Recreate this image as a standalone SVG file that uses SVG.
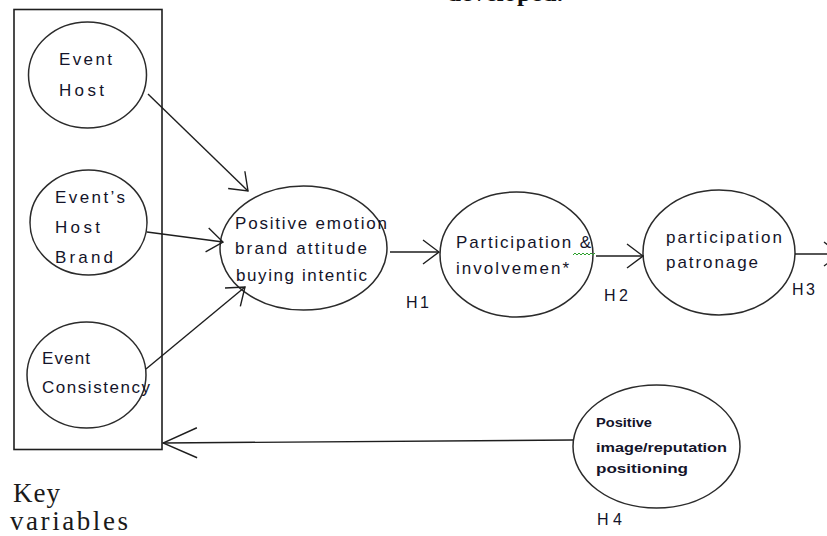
<svg xmlns="http://www.w3.org/2000/svg" width="827" height="536" viewBox="0 0 827 536">
<style>
.bg{fill:#ffffff}
.node{fill:none;stroke:#2b2b2b;stroke-width:1.5}
.box{fill:none;stroke:#1e1e1e;stroke-width:1.6}
.t{font-family:"Liberation Sans",Arial,sans-serif;font-size:17px;fill:#14142a}
.ts{font-family:"Liberation Sans",Arial,sans-serif;font-size:13px;font-weight:bold;fill:#14142a}
.h{font-family:"Liberation Sans",Arial,sans-serif;font-size:16px;fill:#14142a}
.serif{font-family:"Liberation Serif","Times New Roman",serif;font-size:27px;fill:#1a1a1a}
.title{font-family:"Liberation Serif","Times New Roman",serif;font-size:25px;font-weight:bold;fill:#111}
.edge{fill:none;stroke:#1e1e1e;stroke-width:1.4}
</style>
<defs>
<marker id="arr" viewBox="0 0 18 26" refX="17" refY="13" markerWidth="18" markerHeight="26" markerUnits="userSpaceOnUse" orient="auto">
<path d="M1,1 L17,13 L1,25" fill="none" stroke="#1e1e1e" stroke-width="1.4"/>
</marker>
<marker id="arrBig" viewBox="0 0 36 32" refX="35" refY="16" markerWidth="36" markerHeight="32" markerUnits="userSpaceOnUse" orient="auto">
<path d="M1,1 L35,16 L1,31" fill="none" stroke="#1e1e1e" stroke-width="1.4"/>
</marker>
</defs>
<rect class="bg" x="0" y="0" width="827" height="536"/>
<text class="title" x="447" y="1" textLength="116" lengthAdjust="spacing">developed.</text>

<g id="key-box">
<rect class="box" x="14" y="9.5" width="148" height="440"/>
</g>

<g id="event-host">
<ellipse class="node" cx="87.5" cy="75" rx="59" ry="53"/>
<text class="t" x="59" y="65" textLength="53" lengthAdjust="spacing">Event</text>
<text class="t" x="59" y="96" textLength="45" lengthAdjust="spacing">Host</text>
</g>

<g id="event-host-brand">
<ellipse class="node" cx="88.5" cy="222.5" rx="58.5" ry="52.5"/>
<text class="t" x="55" y="203" textLength="70" lengthAdjust="spacing">Event’s</text>
<text class="t" x="55" y="233" textLength="45" lengthAdjust="spacing">Host</text>
<text class="t" x="55" y="263" textLength="58" lengthAdjust="spacing">Brand</text>
</g>

<g id="event-consistency">
<ellipse class="node" cx="86.5" cy="375" rx="59.5" ry="53"/>
<text class="t" x="42" y="364" textLength="48" lengthAdjust="spacing">Event</text>
<text class="t" x="42" y="393" textLength="108" lengthAdjust="spacing">Consistency</text>
</g>

<g id="positive-emotion">
<ellipse class="node" cx="303.5" cy="248" rx="83.5" ry="62"/>
<text class="t" x="235" y="229" textLength="152" lengthAdjust="spacing">Positive emotion</text>
<text class="t" x="235" y="254" textLength="132" lengthAdjust="spacing">brand attitude</text>
<text class="t" x="236" y="281" textLength="131" lengthAdjust="spacing">buying intentic</text>
</g>

<g id="participation-involvement">
<ellipse class="node" cx="516.5" cy="254.5" rx="76.5" ry="62.5"/>
<text class="t" x="456" y="248" textLength="135" lengthAdjust="spacing">Participation &amp;</text>
<text class="t" x="456" y="274" textLength="113" lengthAdjust="spacing">involvemen*</text>
<path d="M573,255 l2,-2 l2,2 l2,-2 l2,2 l2,-2 l2,2 l2,-2 l2,2 l2,-2 l2,2 l2,-2" fill="none" stroke="#2aa02a" stroke-width="1"/>
</g>

<g id="participation-patronage">
<ellipse class="node" cx="719" cy="252.5" rx="76" ry="62.5"/>
<text class="t" x="666" y="243" textLength="116" lengthAdjust="spacing">participation</text>
<text class="t" x="666" y="268" textLength="92" lengthAdjust="spacing">patronage</text>
</g>

<g id="positive-image">
<ellipse class="node" cx="656.5" cy="446.5" rx="83.5" ry="61.5"/>
<text class="ts" x="596" y="427" textLength="56" lengthAdjust="spacingAndGlyphs">Positive</text>
<text class="ts" x="596" y="452" textLength="131" lengthAdjust="spacingAndGlyphs">image/reputation</text>
<text class="ts" x="596" y="473" textLength="92" lengthAdjust="spacingAndGlyphs">positioning</text>
</g>

<g id="connectors">
<line class="edge" x1="148" y1="94" x2="248" y2="191" marker-end="url(#arr)"/>
<line class="edge" x1="147" y1="232" x2="223" y2="242" marker-end="url(#arr)"/>
<line class="edge" x1="146" y1="369" x2="245" y2="287" marker-end="url(#arr)"/>
<line class="edge" x1="390" y1="252" x2="439" y2="252" marker-end="url(#arr)"/>
<line class="edge" x1="596" y1="256" x2="643" y2="256" marker-end="url(#arr)"/>
<line class="edge" x1="795" y1="254" x2="840" y2="254" marker-end="url(#arr)"/>
<line class="edge" x1="573" y1="440" x2="163" y2="443" marker-end="url(#arrBig)"/>
</g>

<g id="labels">
<text class="h" x="406" y="308" textLength="23" lengthAdjust="spacing">H1</text>
<text class="h" x="604" y="301" textLength="24" lengthAdjust="spacing">H2</text>
<text class="h" x="792" y="295" textLength="23" lengthAdjust="spacing">H3</text>
<text class="h" x="597" y="525" textLength="25" lengthAdjust="spacing">H4</text>
<text class="serif" x="13" y="502" textLength="47" lengthAdjust="spacing">Key</text>
<text class="serif" x="10" y="530" textLength="118" lengthAdjust="spacing">variables</text>
</g>
</svg>
